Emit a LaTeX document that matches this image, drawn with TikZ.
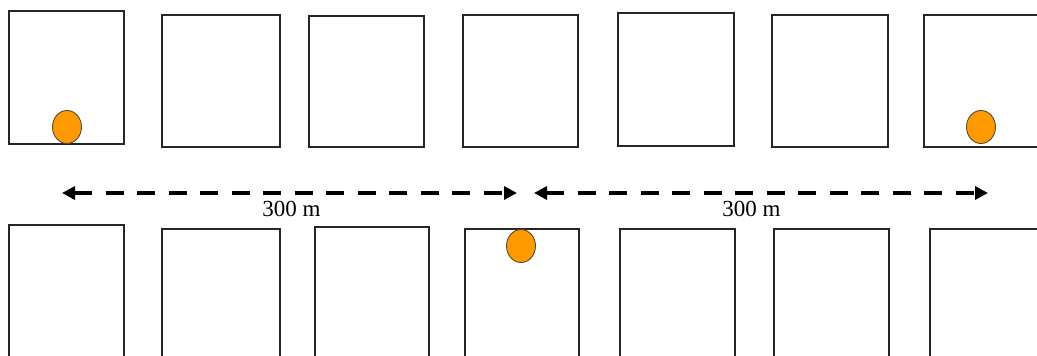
\documentclass[tikz,border=0pt]{standalone}
\usepackage{fontspec}
\setmainfont{Liberation Serif}
\usetikzlibrary{arrows.meta,shapes.geometric}
\definecolor{stationfill}{HTML}{FF9900}
\definecolor{stationedge}{HTML}{5A4A30}
\definecolor{edgegray}{HTML}{262626}
\begin{document}
\begin{tikzpicture}[x=1pt,y=-1pt,
  house/.style={draw=edgegray,line width=1.6pt,fill=white,inner sep=0pt,outer sep=0pt,anchor=north west},
  station/.style={ellipse,draw=stationedge,line width=0.9pt,fill=stationfill,inner sep=0pt,minimum width=29pt,minimum height=33pt},
  span/.style={line width=3.6pt,dash pattern=on 18pt off 13.5pt,{Triangle[length=13pt,width=13pt]}-{Triangle[length=13pt,width=13pt]}},
  distlabel/.style={font=\fontsize{23}{27}\selectfont,anchor=base,inner sep=0pt}]
\useasboundingbox (0,0) rectangle (1037,356);
\clip (0,0) rectangle (1037,356);
% upper row of blocks
\node[house,minimum width=115pt,minimum height=133pt] (t1) at (9,11) {};
\node[house,minimum width=118pt,minimum height=132pt] (t2) at (162,15) {};
\node[house,minimum width=115pt,minimum height=131pt] (t3) at (309,16) {};
\node[house,minimum width=115pt,minimum height=132pt] (t4) at (463,15) {};
\node[house,minimum width=116pt,minimum height=133pt] (t5) at (618,13) {};
\node[house,minimum width=116pt,minimum height=132pt] (t6) at (772,15) {};
\node[house,minimum width=130pt,minimum height=132pt] (t7) at (924,15) {};
% lower row of blocks, running past the lower edge
\node[house,minimum width=115pt,minimum height=150pt] (b1) at (9,225) {};
\node[house,minimum width=118pt,minimum height=150pt] (b2) at (162,229) {};
\node[house,minimum width=114pt,minimum height=150pt] (b3) at (315,227) {};
\node[house,minimum width=114pt,minimum height=150pt] (b4) at (465,229) {};
\node[house,minimum width=115pt,minimum height=150pt] (b5) at (620,229) {};
\node[house,minimum width=115pt,minimum height=150pt] (b6) at (774,229) {};
\node[house,minimum width=130pt,minimum height=150pt] (b7) at (930,229) {};
% stations
\node[station] (s1) at (67,127) {};
\node[station] (s2) at (981,127) {};
\node[station] (s3) at (521,246) {};
% distance markers
\coordinate (l1) at (62,193);
\coordinate (l2) at (517,193);
\coordinate (r1) at (534,193);
\coordinate (r2) at (988,193);
\draw[span] (l1) -- (l2);
\draw[span] (r1) -- (r2);
\node[distlabel] (d1) at (291.5,216) {300 m};
\node[distlabel] (d2) at (751.5,216) {300 m};
\end{tikzpicture}
\end{document}
